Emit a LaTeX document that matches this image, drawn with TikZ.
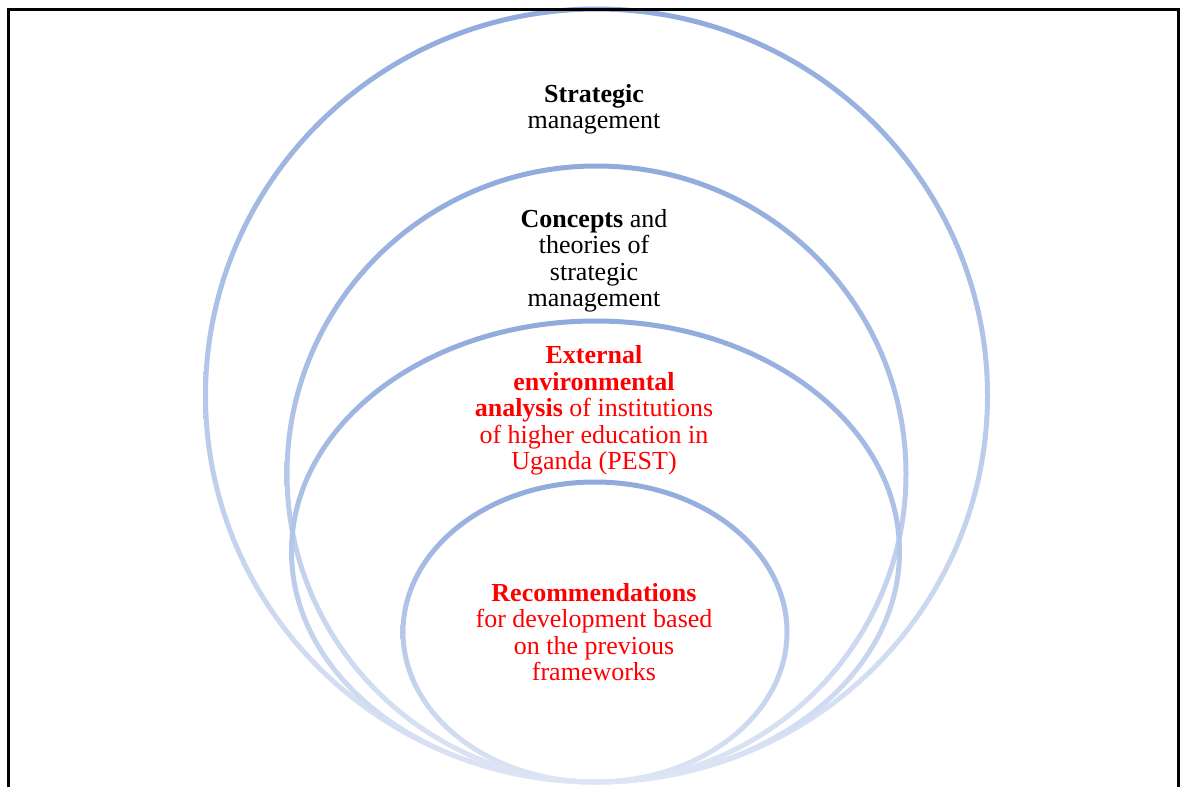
\documentclass[tikz,border=0pt]{standalone}
\usepackage{fontspec}
\setmainfont{Liberation Serif}
\definecolor{ringtop}{RGB}{143,170,220}
\definecolor{ringmid}{RGB}{182,200,234}
\definecolor{ringbot}{RGB}{222,230,245}
\tikzset{
  ring/.style={top color=ringtop, bottom color=ringbot, middle color=ringmid, even odd rule},
  layertext/.style={font=\fontsize{26pt}{26.5pt}\selectfont, align=center, anchor=north, inner sep=0pt}
}
\begin{document}
\begin{tikzpicture}

  \useasboundingbox (0pt,0pt) rectangle (1186pt,-787pt);

  %% nested rings, all touching at the bottom
  \shade[ring] (596.5pt,-395.5pt) ellipse (393.5pt and 389pt)
               (596.5pt,-395.5pt) ellipse (388.5pt and 384pt);
  \shade[ring] (596.5pt,-474pt) ellipse (312pt and 310.5pt)
               (596.5pt,-474pt) ellipse (307pt and 305.5pt);
  \shade[ring] (595.5pt,-551.5pt) ellipse (306.5pt and 233pt)
               (595.5pt,-551.5pt) ellipse (301.5pt and 228pt);
  \shade[ring] (595pt,-632pt) ellipse (194.5pt and 152.5pt)
               (595pt,-632pt) ellipse (189.5pt and 147.5pt);

  %% frame
  \draw[line width=3pt] (8.5pt,-800pt) -- (8.5pt,-9pt)
  -- (1178.5pt,-9pt) -- (1178.5pt,-800pt);

  %% labels
  \node[layertext] (strat) at (594pt,-84pt)
  {\textbf{Strategic}\\management};
  \node[layertext] (concepts) at (594pt,-209pt)
  {\textbf{Concepts} and\\theories of\\strategic\\management};
  \node[layertext, text=red] (external) at (594pt,-345.3pt)
  {\textbf{External}\\\textbf{environmental}\\\textbf{analysis} of institutions\\of higher education in\\Uganda (PEST)};
  \node[layertext, text=red] (recomm) at (594pt,-583pt)
  {\textbf{Recommendations}\\for development based\\on the previous\\frameworks};

\end{tikzpicture}
\end{document}
